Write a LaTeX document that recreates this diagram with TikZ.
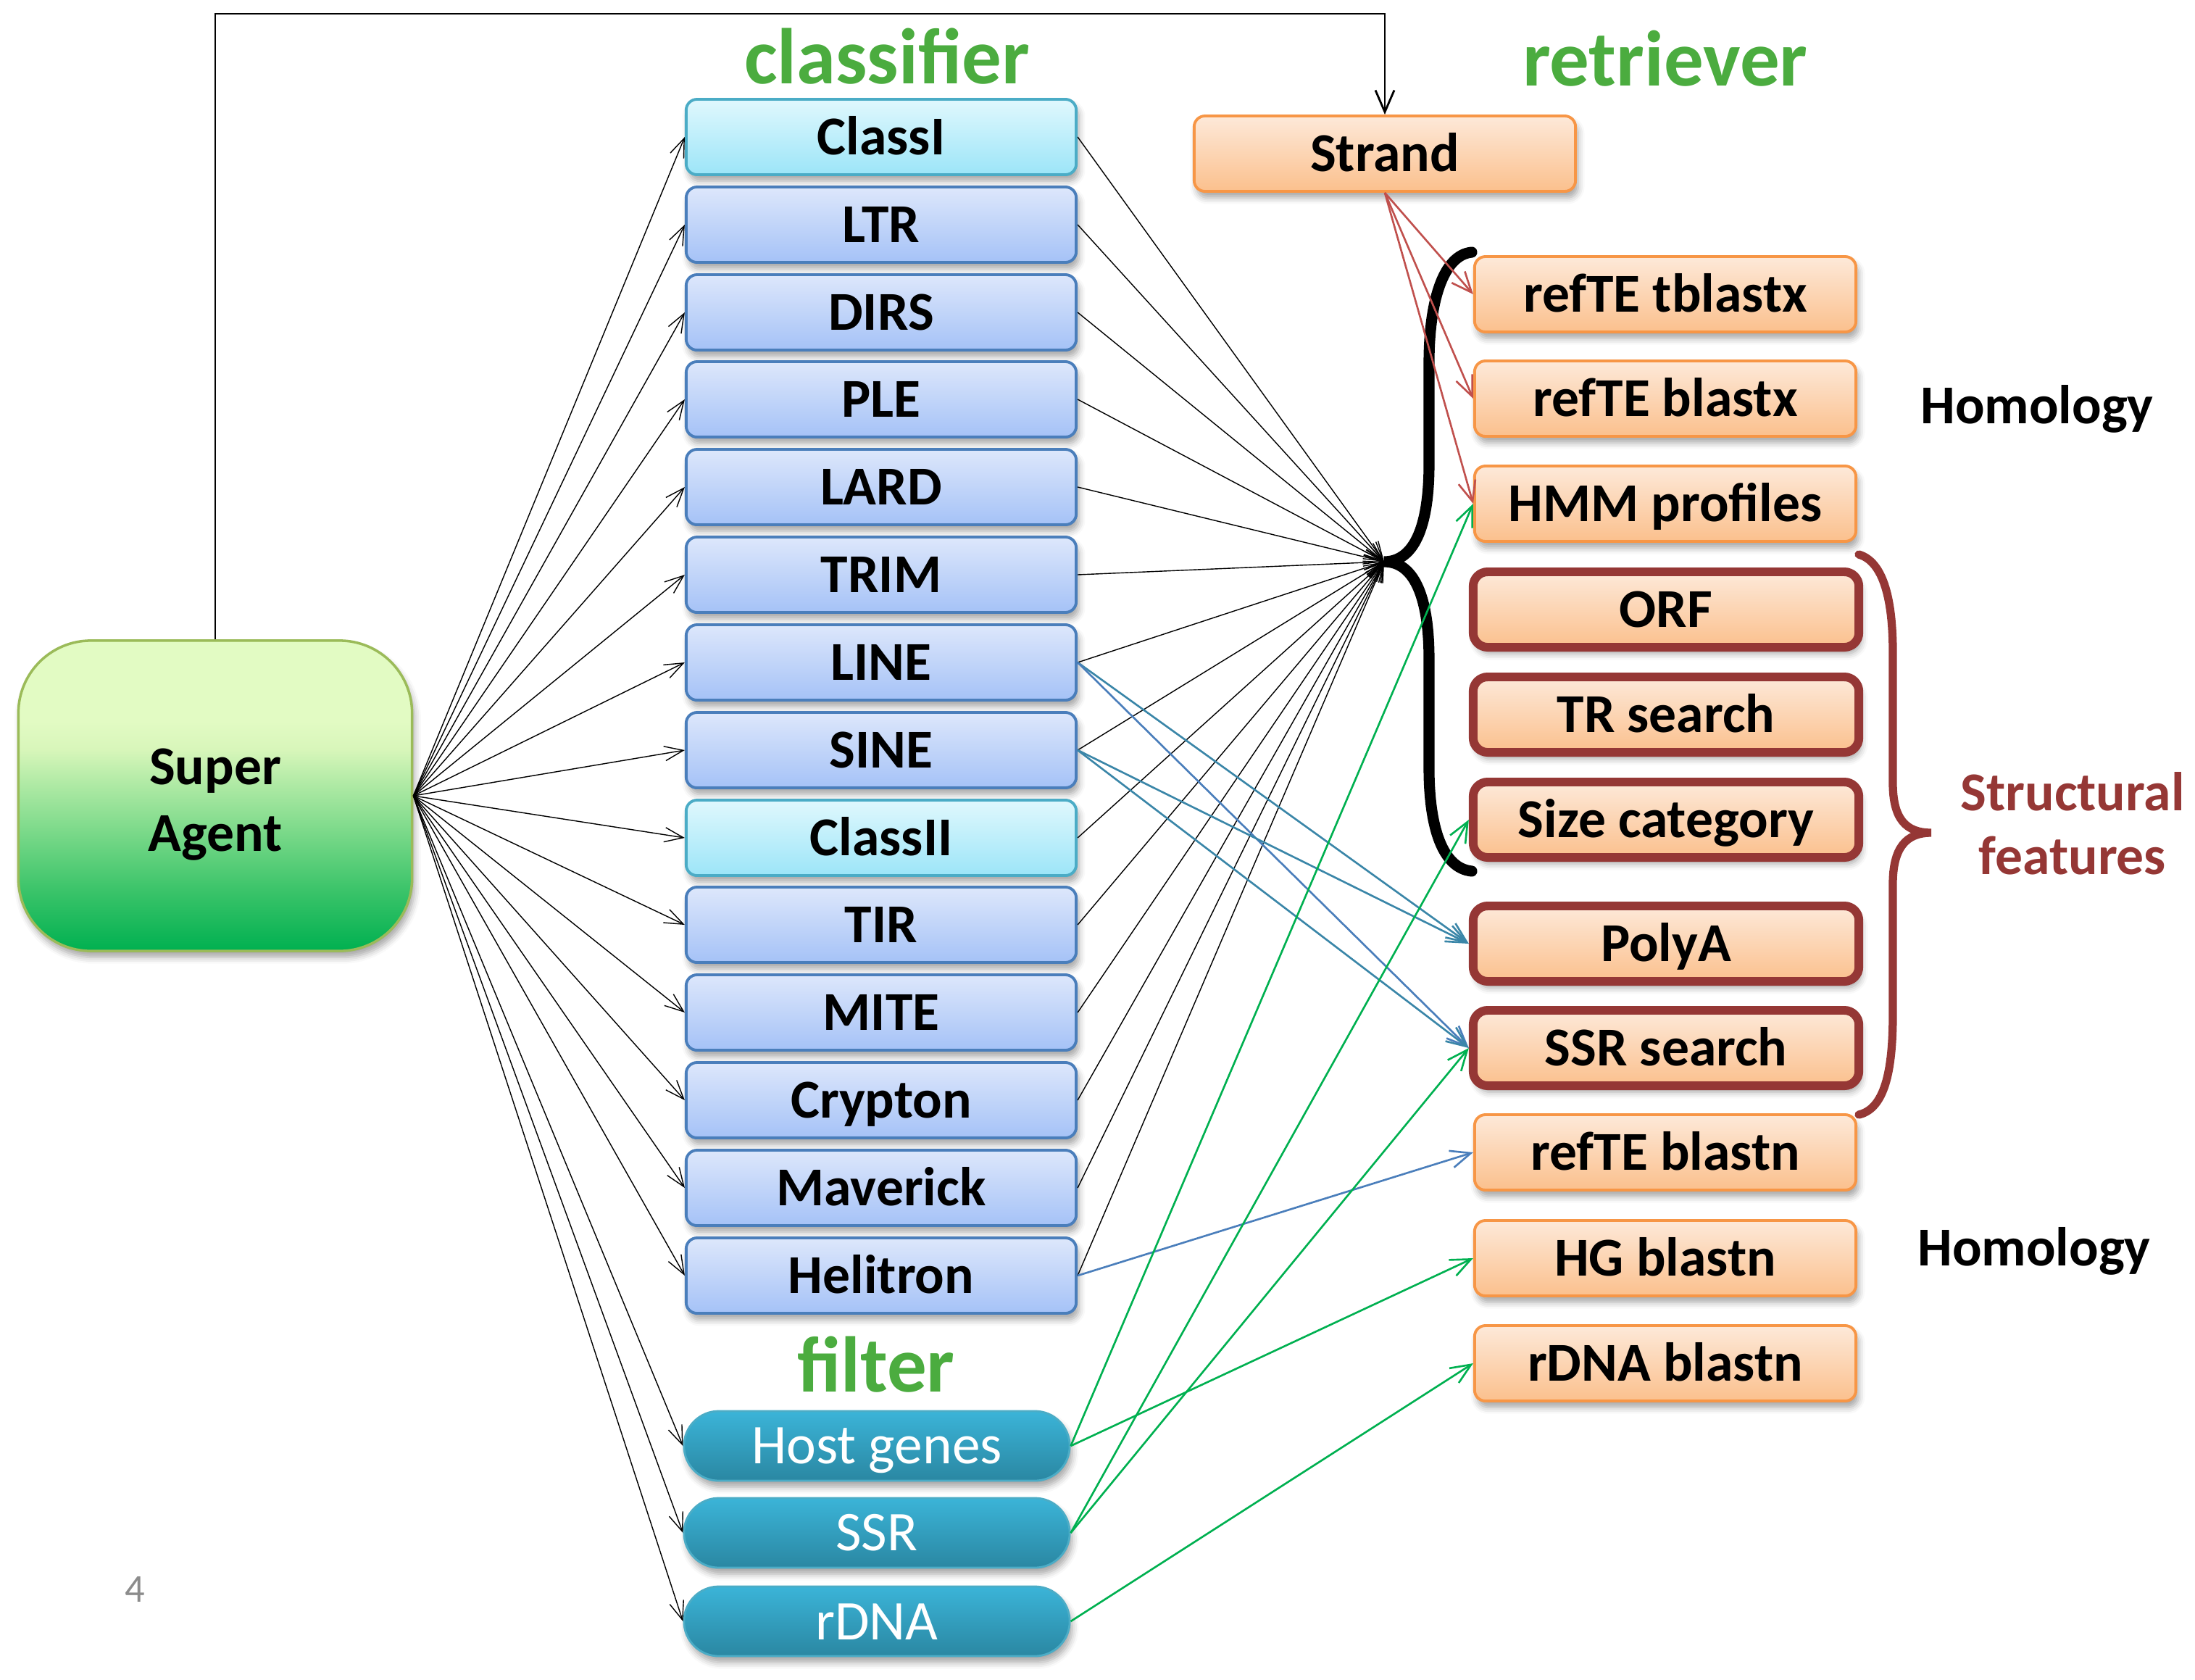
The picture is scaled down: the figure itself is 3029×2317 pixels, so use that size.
\documentclass[tikz,border=0pt]{standalone}
\usepackage{fontspec}
\setmainfont{Carlito}
\usetikzlibrary{arrows.meta,shadows.blur,calc}

\definecolor{clsTop}{HTML}{DDE7FB}
\definecolor{clsBot}{HTML}{A5C2F7}
\definecolor{clsEdge}{HTML}{4A7EBB}
\definecolor{cyTop}{HTML}{E0F8FD}
\definecolor{cyBot}{HTML}{9CE5F8}
\definecolor{cyEdge}{HTML}{4BACC6}
\definecolor{orTop}{HTML}{FDE9D9}
\definecolor{orBot}{HTML}{FBC08D}
\definecolor{orEdge}{HTML}{F79646}
\definecolor{maroon}{HTML}{953735}
\definecolor{filTop}{HTML}{3BB4D8}
\definecolor{filBot}{HTML}{2A87A2}
\definecolor{filEdge}{HTML}{4BACC6}
\definecolor{ttlGreen}{HTML}{4BAC3F}
\definecolor{lnRed}{HTML}{C0504D}
\definecolor{lnBlue}{HTML}{4A7EBB}
\definecolor{lnTeal}{HTML}{3A86A8}
\definecolor{lnGreen}{HTML}{00B050}
\definecolor{saEdge}{HTML}{9BBB59}
\definecolor{saA}{HTML}{00B050}
\definecolor{saB}{HTML}{3CC46A}
\definecolor{saC}{HTML}{80DB8C}
\definecolor{saD}{HTML}{B0EAA5}
\definecolor{saE}{HTML}{D8F6BA}
\definecolor{saF}{HTML}{E2FBC3}
\definecolor{pageGray}{HTML}{8C8C8C}

\pgfdeclareverticalshading{sagrad}{100bp}{color(0bp)=(saA); color(25bp)=(saA); color(35bp)=(saB); color(45bp)=(saC); color(52bp)=(saD); color(57.5bp)=(saE); color(62bp)=(saF); color(75bp)=(saF); color(100bp)=(saF)}

\tikzset{
  every node/.style={font=\bfseries\fontsize{21.5}{25}\selectfont},
  shadowed/.style={blur shadow={shadow xshift=1pt, shadow yshift=-2.5pt, shadow opacity=35, shadow blur radius=2.5pt}},
  fixbase/.style={text height=15pt, text depth=0.8pt},
  clsbox/.style={shadowed, fixbase, rectangle, rounded corners=0.15cm, draw=clsEdge, line width=1.1pt,
    top color=clsTop, bottom color=clsBot, minimum width=5.38cm, minimum height=1.04cm, inner sep=0pt},
  cybox/.style={clsbox, draw=cyEdge, top color=cyTop, bottom color=cyBot},
  orbox/.style={shadowed, fixbase, rectangle, rounded corners=0.15cm, draw=orEdge, line width=1.1pt,
    top color=orTop, bottom color=orBot, minimum width=5.26cm, minimum height=1.04cm, inner sep=0pt},
  strbox/.style={orbox, draw=maroon, line width=3.4pt, minimum width=5.32cm, minimum height=1.04cm, rounded corners=0.2cm},
  filbox/.style={shadowed, fixbase, rectangle, rounded corners=0.48cm, draw=filEdge, line width=0.8pt,
    top color=filTop, bottom color=filBot, minimum width=5.32cm, minimum height=0.96cm, text=white,
    font=\fontsize{22}{25}\selectfont, inner sep=0pt},
  ttl/.style={text=ttlGreen, font=\bfseries\fontsize{31}{34}\selectfont, anchor=base},
  fan/.style={-{Straight Barb[length=0.26cm,width=0.2cm]}, line width=0.4pt, black},
  colarr/.style={-{Straight Barb[length=0.28cm,width=0.24cm]}, line width=0.75pt},
}

\begin{document}
\begin{tikzpicture}[x=0.01cm, y=-0.01cm]
\useasboundingbox (0,0) rectangle (3029,2317);

% titles
\node[ttl] (tclass) at (1224,115) {classifier};
\node[ttl] (tret) at (2298,118) {retriever};
\node[ttl] (tfil) at (1209,1920) {filter};

% super agent
\node[shadowed, rectangle, rounded corners=1cm, draw=saEdge, line width=1pt, shading=sagrad,
      minimum width=5.43cm, minimum height=4.28cm] (SA) at (297,1098) {};
\node[align=center, font=\bfseries\fontsize{21.5}{26}\selectfont] (satext) at (297,1110) {Super\\Agent};

% classifier column
\node[cybox]  (cI)       at (1216,189)  {ClassI};
\node[clsbox] (ltr)      at (1216,310)  {LTR};
\node[clsbox] (dirs)     at (1216,431)  {DIRS};
\node[clsbox] (ple)      at (1216,551)  {PLE};
\node[clsbox] (lard)     at (1216,672)  {LARD};
\node[clsbox] (trim)     at (1216,793)  {TRIM};
\node[clsbox] (line)     at (1216,914)  {LINE};
\node[clsbox] (sine)     at (1216,1035) {SINE};
\node[cybox]  (cII)      at (1216,1156) {ClassII};
\node[clsbox] (tir)      at (1216,1276) {TIR};
\node[clsbox] (mite)     at (1216,1397) {MITE};
\node[clsbox] (crypton)  at (1216,1518) {Crypton};
\node[clsbox] (maverick) at (1216,1639) {Maverick};
\node[clsbox] (helitron) at (1216,1760) {Helitron};

% filter column
\node[filbox] (hostg) at (1210,1995) {Host genes};
\node[filbox] (ssr)   at (1210,2115) {SSR};
\node[filbox] (rdna)  at (1210,2237) {rDNA};

% retriever column
\node[orbox] (strand) at (1911,212) {Strand};
\node[orbox] (tbx)   at (2298,406)  {refTE tblastx};
\node[orbox] (bx)    at (2298,550)  {refTE blastx};
\node[orbox] (hmm)   at (2298,695)  {HMM profiles};
\node[strbox] (orf)  at (2299,841)  {ORF};
\node[strbox] (trs)  at (2299,986)  {TR search};
\node[strbox] (size) at (2299,1131) {Size category};
\node[strbox] (polya) at (2299,1302) {PolyA};
\node[strbox] (ssrs) at (2299,1446) {SSR search};
\node[orbox] (bn)    at (2298,1590) {refTE blastn};
\node[orbox] (hg)    at (2298,1736) {HG blastn};
\node[orbox] (rdnab) at (2298,1881) {rDNA blastn};

% side labels
\node[anchor=base] (hom1) at (2811,584) {Homology};
\node[anchor=base] (hom2) at (2807,1746) {Homology};
\node[text=maroon, align=center] (struct) at (2860,1136) {Structural\\features};
\node[text=pageGray, font=\fontsize{15.5}{18}\selectfont, anchor=base] (pnum) at (186,2210) {4};

% braces
\coordinate (tip) at (1910,775);
\draw[line width=4.3pt, black, line cap=round]
  (2031,348) .. controls (1990,352) and (1972,420) .. (1972,500)
  -- (1972,640) .. controls (1972,730) and (1950,775) .. (tip)
  .. controls (1950,775) and (1972,820) .. (1972,910)
  -- (1972,1060) .. controls (1972,1140) and (1990,1198) .. (2031,1202);
\coordinate (rtip) at (2665,1149);
\draw[line width=3.2pt, maroon, line cap=round]
  (2565,765) .. controls (2600,775) and (2612,830) .. (2612,900)
  -- (2612,1080) .. controls (2612,1130) and (2630,1149) .. (rtip)
  .. controls (2630,1149) and (2612,1170) .. (2612,1220)
  -- (2612,1400) .. controls (2612,1480) and (2600,1530) .. (2565,1538);

% super agent to strand
\coordinate (topR) at (1911,19);
\draw[line width=0.8pt, -{Straight Barb[length=0.3cm,width=0.26cm]}] (SA.north) |- (topR) -- (strand.north);

% fan from super agent
\foreach \n in {cI,ltr,dirs,ple,lard,trim,line,sine,cII,tir,mite,crypton,maverick,helitron,hostg,ssr,rdna}
  \draw[fan] (SA.east) -- (\n.west);
% classifiers to brace tip
\foreach \n in {cI,ltr,dirs,ple,lard,trim,line,sine,cII,tir,mite,crypton,maverick,helitron}
  \draw[fan] (\n.east) -- (tip);

% strand to homology tools
\foreach \n in {tbx,bx,hmm}
  \draw[colarr, lnRed] (strand.south) -- (\n.west);

% LINE / SINE to structural
\draw[colarr, lnTeal] (line.east) -- (polya.west);
\draw[colarr, lnBlue] (line.east) -- (ssrs.west);
\draw[colarr, lnTeal] (sine.east) -- (polya.west);
\draw[colarr, lnTeal] (sine.east) -- (ssrs.west);
\draw[colarr, lnBlue] (helitron.east) -- (bn.west);

% filters
\draw[colarr, lnGreen] (hostg.east) -- (hmm.west);
\draw[colarr, lnGreen] (hostg.east) -- (hg.west);
\draw[colarr, lnGreen] (ssr.east) -- (size.west);
\draw[colarr, lnGreen] (ssr.east) -- (ssrs.west);
\draw[colarr, lnGreen] (rdna.east) -- (rdnab.west);
\end{tikzpicture}
\end{document}
